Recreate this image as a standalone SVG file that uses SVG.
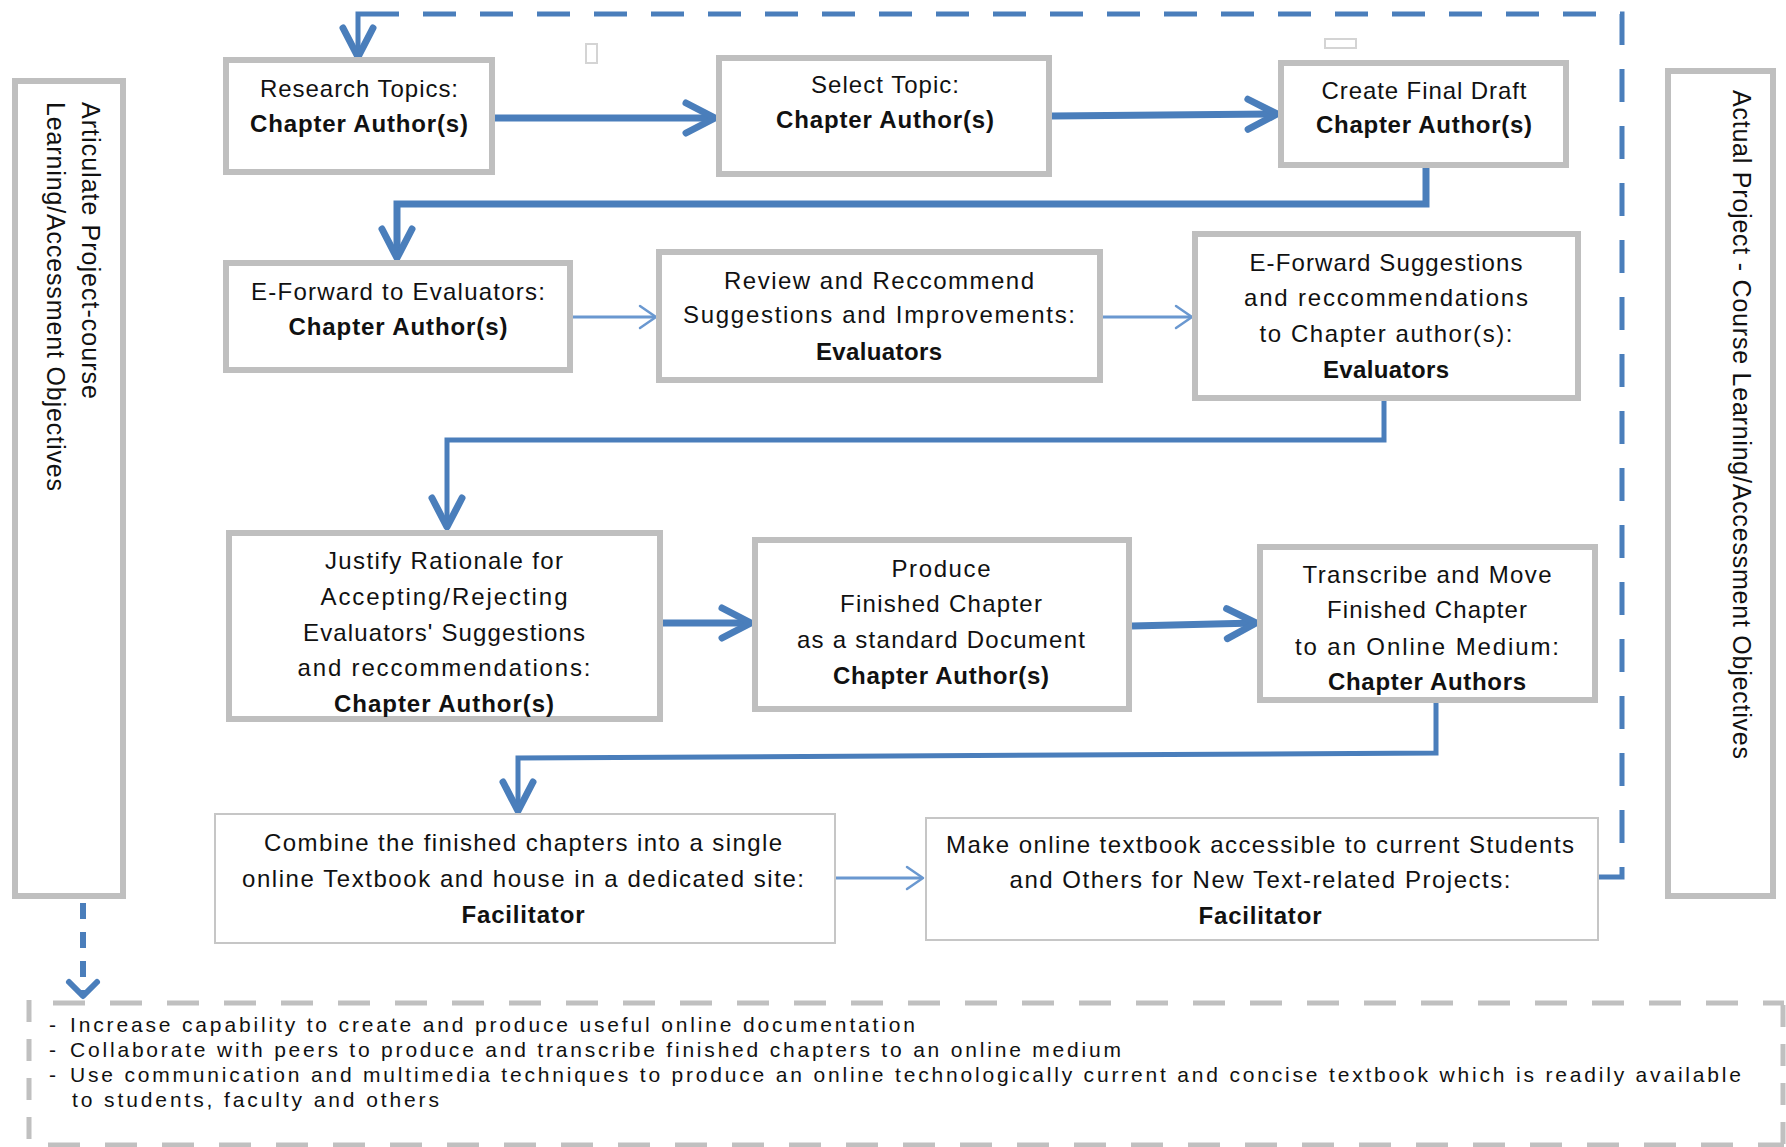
<svg xmlns="http://www.w3.org/2000/svg" width="1786" height="1147" viewBox="0 0 1786 1147">
<style>
.box{fill:#fff;stroke:#bfbfbf;stroke-width:6}
.tbox{fill:#fff;stroke:#c6c6c6;stroke-width:2}
.t{font-family:"Liberation Sans",Arial,sans-serif;font-size:24px;fill:#111;text-anchor:middle}
.v{font-family:"Liberation Sans",Arial,sans-serif;font-size:25px;fill:#111}
.l{font-family:"Liberation Sans",Arial,sans-serif;font-size:21px;fill:#111}
.b{font-weight:bold}
.thick{fill:none;stroke:#4a7ebb;stroke-width:7}
.mid{fill:none;stroke:#4a7ebb;stroke-width:5}
.thin{fill:none;stroke:#6a98d0;stroke-width:3}
.dash{fill:none;stroke:#4a7ebb;stroke-width:5;stroke-dasharray:33 24}
.gdash{fill:none;stroke:#c0c0c0;stroke-width:5}
</style>
<defs>
<marker id="ah" markerUnits="userSpaceOnUse" viewBox="-40 -25 50 50" markerWidth="50" markerHeight="50" refX="0" refY="0" orient="auto" overflow="visible">
<path d="M-28,-15 L1,0 L-28,15" fill="none" stroke="#4a7ebb" stroke-width="7" stroke-linecap="round" stroke-linejoin="round"/>
</marker>
<marker id="ahs" markerUnits="userSpaceOnUse" viewBox="-30 -20 40 40" markerWidth="40" markerHeight="40" refX="0" refY="0" orient="auto" overflow="visible">
<path d="M-15,-11 L1,0 L-15,11" fill="none" stroke="#6a98d0" stroke-width="2.5" stroke-linecap="round" stroke-linejoin="round"/>
</marker>
</defs>
<rect width="1786" height="1147" fill="#fff"/>

<!-- small artifacts -->
<rect x="586" y="44" width="11" height="19" fill="#fff" stroke="#d4d4d4" stroke-width="2"/>
<rect x="1325" y="39" width="31" height="9" fill="#fff" stroke="#d4d4d4" stroke-width="2"/>

<g id="connectors">
<path class="thick" d="M495,118 H714" marker-end="url(#ah)"/>
<path class="thick" d="M1052,116 L1276,114" marker-end="url(#ah)"/>
<path class="thick" d="M1426,168 V204 H397 V257" marker-end="url(#ah)"/>
<path class="thin" d="M573,317 H655" marker-end="url(#ahs)"/>
<path class="thin" d="M1103,317 H1191" marker-end="url(#ahs)"/>
<path class="mid" d="M1384,401 V440 H447 V526" marker-end="url(#ah)"/>
<path class="thick" d="M663,623 H750" marker-end="url(#ah)"/>
<path class="thick" d="M1132,626 L1255,623" marker-end="url(#ah)"/>
<path class="mid" d="M1436,703 V753 L518,758 V810" marker-end="url(#ah)"/>
<path class="thin" d="M836,878 H922" marker-end="url(#ahs)"/>
<path class="dash" d="M1599,877 H1622 V14 H385"/>
<path class="mid" d="M385,14 H358 V56" marker-end="url(#ah)"/>
<path fill="none" stroke="#4a7ebb" stroke-width="6" stroke-dasharray="16 13" d="M83,903 V992"/>
<path fill="none" stroke="#4a7ebb" stroke-width="6" stroke-linecap="round" stroke-linejoin="round" d="M69,982 L83,996 L97,982"/>
</g>

<g id="left-objectives">
<rect class="box" x="15" y="81" width="108" height="815"/>
<text class="v" transform="translate(82,102) rotate(90)" textLength="297" lengthAdjust="spacing">Articulate Project-course</text>
<text class="v" transform="translate(47,102) rotate(90)" textLength="389" lengthAdjust="spacing">Learning/Accessment Objectives</text>
</g>

<g id="right-objectives">
<rect class="box" x="1668" y="71" width="105" height="825"/>
<text class="v" transform="translate(1733,90) rotate(90)" textLength="669" lengthAdjust="spacing">Actual Project - Course Learning/Accessment Objectives</text>
</g>

<g id="n1">
<rect class="box" x="226" y="60" width="266" height="112"/>
<text class="t" x="359" y="97" textLength="198">Research Topics:</text>
<text class="t b" x="359" y="132" textLength="218">Chapter Author(s)</text>
</g>

<g id="n2">
<rect class="box" x="719" y="58" width="330" height="116"/>
<text class="t" x="885" y="93" textLength="148">Select Topic:</text>
<text class="t b" x="885" y="128" textLength="218">Chapter Author(s)</text>
</g>

<g id="n3">
<rect class="box" x="1281" y="63" width="285" height="102"/>
<text class="t" x="1424" y="99" textLength="205">Create Final Draft</text>
<text class="t b" x="1424" y="133" textLength="216">Chapter Author(s)</text>
</g>

<g id="n4">
<rect class="box" x="226" y="263" width="344" height="107"/>
<text class="t" x="398" y="300" textLength="294">E-Forward to Evaluators:</text>
<text class="t b" x="398" y="335" textLength="219">Chapter Author(s)</text>
</g>

<g id="n5">
<rect class="box" x="659" y="252" width="441" height="128"/>
<text class="t" x="879" y="289" textLength="310">Review and Reccommend</text>
<text class="t" x="879" y="323" textLength="392">Suggestions and Improvements:</text>
<text class="t b" x="879" y="360" textLength="126">Evaluators</text>
</g>

<g id="n6">
<rect class="box" x="1195" y="234" width="383" height="164"/>
<text class="t" x="1386" y="271" textLength="273">E-Forward Suggestions</text>
<text class="t" x="1386" y="306" textLength="284">and reccommendations</text>
<text class="t" x="1386" y="342" textLength="253">to Chapter author(s):</text>
<text class="t b" x="1386" y="378" textLength="126">Evaluators</text>
</g>

<g id="n7">
<rect class="box" x="229" y="533" width="431" height="186"/>
<text class="t" x="444" y="569" textLength="238">Justify Rationale for</text>
<text class="t" x="444" y="605" textLength="247">Accepting/Rejecting</text>
<text class="t" x="444" y="641" textLength="282">Evaluators' Suggestions</text>
<text class="t" x="444" y="676" textLength="293">and reccommendations:</text>
<text class="t b" x="444" y="712" textLength="220">Chapter Author(s)</text>
</g>

<g id="n8">
<rect class="box" x="755" y="540" width="374" height="169"/>
<text class="t" x="941" y="577" textLength="99">Produce</text>
<text class="t" x="941" y="612" textLength="202">Finished Chapter</text>
<text class="t" x="941" y="648" textLength="288">as a standard Document</text>
<text class="t b" x="941" y="684" textLength="216">Chapter Author(s)</text>
</g>

<g id="n9">
<rect class="box" x="1260" y="547" width="335" height="153"/>
<text class="t" x="1427" y="583" textLength="249">Transcribe and Move</text>
<text class="t" x="1427" y="618" textLength="200">Finished Chapter</text>
<text class="t" x="1427" y="655" textLength="264">to an Online Medium:</text>
<text class="t b" x="1427" y="690" textLength="198">Chapter Authors</text>
</g>

<g id="n10">
<rect class="tbox" x="215" y="814" width="620" height="129"/>
<text class="t" x="523" y="851" textLength="518">Combine the finished chapters into a single</text>
<text class="t" x="523" y="887" textLength="562">online Textbook and house in a dedicated site:</text>
<text class="t b" x="523" y="923" textLength="123">Facilitator</text>
</g>

<g id="n11">
<rect class="tbox" x="926" y="818" width="672" height="122"/>
<text class="t" x="1260" y="853" textLength="628">Make online textbook accessible to current Students</text>
<text class="t" x="1260" y="888" textLength="501">and Others for New Text-related Projects:</text>
<text class="t b" x="1260" y="924" textLength="123">Facilitator</text>
</g>

<g id="outcomes">
<path class="gdash" stroke-dasharray="32 25" d="M53,1003 H1784"/>
<path class="gdash" stroke-dasharray="32 25" d="M48,1145 H1784"/>
<path class="gdash" stroke-dasharray="22 17" d="M29,1000 V1147"/>
<path class="gdash" stroke-dasharray="22 17" d="M1783,1005 V1147"/>
<text class="l" x="49" y="1032">-</text>
<text class="l" x="70" y="1032" textLength="845" lengthAdjust="spacing">Increase capability to create and produce useful online documentation</text>
<text class="l" x="49" y="1057">-</text>
<text class="l" x="70" y="1057" textLength="1051" lengthAdjust="spacing">Collaborate with peers to produce and transcribe finished chapters to an online medium</text>
<text class="l" x="49" y="1082">-</text>
<text class="l" x="70" y="1082" textLength="1671" lengthAdjust="spacing">Use communication and multimedia techniques to produce an online technologically  current and concise textbook which is readily available</text>
<text class="l" x="72" y="1107" textLength="367" lengthAdjust="spacing">to students, faculty and others</text>
</g>
</svg>
